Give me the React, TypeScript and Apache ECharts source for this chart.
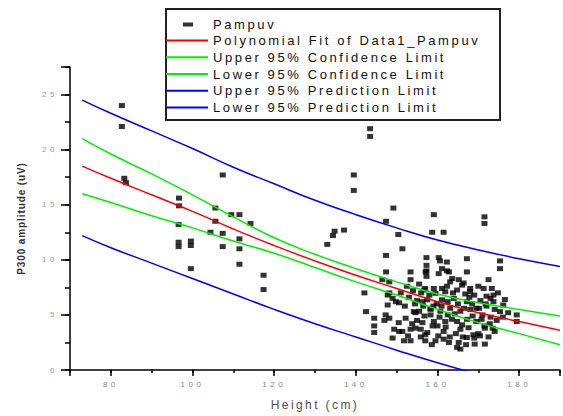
import React, { useEffect, useRef } from 'react';
import * as echarts from 'echarts';

// Curve sample positions (Height, cm)
const fitX = [73, 80, 90, 100, 110, 120, 130, 140, 150, 160, 170, 180, 190];
// Polynomial fit
const fitY = [18.5, 17.4, 15.9, 14.4, 12.8, 11.3, 9.9, 8.6, 7.4, 6.2, 5.2, 4.4, 3.6];
// 95% confidence limits
const upperConf = [21.0, 19.6, 17.8, 15.9, 13.9, 12.0, 10.5, 9.2, 8.0, 6.9, 6.1, 5.5, 4.9];
const lowerConf = [16.0, 15.2, 14.0, 12.9, 11.7, 10.6, 9.3, 8.0, 6.8, 5.5, 4.3, 3.3, 2.3];
// 95% prediction limits
const upperPred = [24.5, 23.3, 21.7, 20.1, 18.4, 16.9, 15.4, 14.1, 12.9, 11.8, 10.9, 10.1, 9.4];
const lowerPred = [12.2, 11.1, 9.7, 8.3, 6.9, 5.5, 4.2, 3.0, 1.8, 0.65, -0.4, -1.4, -2.3];

// Measured points [height, P300 amplitude]
const pampuv: [number, number][] = [
  [82.7, 24.0], [82.7, 22.1], [83.3, 17.4], [83.7, 17.0],
  [96.7, 15.6], [96.7, 14.9], [96.6, 13.2], [96.6, 11.6], [96.6, 11.2],
  [99.6, 11.7], [99.6, 11.3], [99.6, 9.2],
  [105.6, 14.7], [105.6, 13.5], [104.4, 12.5], [107.4, 12.4], [107.4, 11.2], [107.4, 17.7],
  [109.5, 14.1], [111.5, 14.1], [111.5, 11.9], [111.5, 11.0], [111.5, 9.6],
  [114.2, 13.3], [117.4, 8.6], [117.4, 7.3],
  [133.0, 11.4], [134.8, 12.6], [134.4, 12.2], [137.1, 12.7],
  [139.5, 17.7], [139.5, 16.3], [143.5, 21.9], [143.5, 21.2],
  [149.2, 14.7], [147.4, 13.5], [150.4, 12.3],
  [147.4, 10.4], [147.4, 8.9], [146.5, 8.2], [148.2, 8.0],
  [142.1, 7.0], [148.2, 7.0], [149.0, 6.5], [147.8, 5.9],
  [142.5, 5.3], [144.5, 4.7], [144.5, 4.0], [144.5, 3.4],
  [147.3, 5.0], [148.2, 4.7], [147.0, 4.5], [149.0, 2.9],
  [149.4, 3.7], [150.6, 3.5], [149.8, 6.2], [147.8, 6.8],
  [159.1, 14.1], [158.7, 12.5], [161.5, 12.5], [151.4, 11.0], [157.3, 10.2],
  [160.3, 10.2], [160.6, 9.9], [162.3, 9.8], [161.1, 9.2], [162.3, 9.0],
  [157.3, 9.5], [157.3, 9.0], [157.3, 8.5], [153.4, 8.9], [153.4, 8.2], [163.6, 8.3],
  [157.0, 7.4], [159.1, 7.4], [161.1, 7.4], [162.3, 7.6],
  [150.6, 6.1], [152.2, 4.7], [154.6, 5.2], [151.4, 3.5], [153.4, 3.7],
  [151.8, 2.65], [153.4, 2.65], [155.9, 3.7], [155.9, 3.0], [158.3, 5.6], [158.3, 5.0],
  [151.0, 7.0], [153.0, 6.6], [155.0, 6.3], [156.0, 7.0], [152.0, 5.8], [154.5, 6.0],
  [154.2, 5.3], [154.6, 3.8], [157.0, 3.2], [157.0, 2.65],
  [157.1, 8.9], [160.3, 8.75], [162.8, 8.9], [167.2, 8.9], [163.1, 8.0], [166.4, 7.9],
  [156.7, 7.26], [159.5, 6.96], [161.9, 7.1], [164.8, 7.26], [168.0, 7.1],
  [156.3, 6.2], [157.5, 6.37], [161.1, 6.37], [164.0, 6.5], [167.2, 6.2],
  [155.5, 5.33], [158.3, 5.5], [160.7, 5.33], [163.1, 5.6], [165.6, 5.33], [168.0, 5.5],
  [156.3, 4.3], [159.1, 4.4], [161.9, 4.4], [164.8, 4.4], [167.2, 4.6],
  [157.5, 3.4], [161.5, 3.5], [165.6, 3.7], [167.6, 3.84],
  [159.5, 2.65], [161.5, 2.8], [165.2, 2.5], [167.2, 2.95],
  [164.8, 2.05], [165.6, 1.9], [163.0, 3.0], [160.0, 4.0], [162.5, 5.0], [166.0, 4.1],
  [171.5, 13.9], [171.5, 13.3], [167.2, 10.1], [175.3, 9.9], [175.3, 9.2],
  [165.2, 8.2], [166.0, 7.7], [168.0, 7.4], [171.3, 7.4], [173.3, 7.4],
  [173.7, 6.8], [173.7, 6.2], [176.5, 6.4], [176.1, 5.9], [175.3, 5.3], [177.3, 5.2],
  [179.4, 5.0], [179.4, 4.4], [171.6, 2.35], [169.1, 2.35],
  [169.0, 6.8], [170.5, 6.3], [172.0, 5.8], [169.5, 5.6], [171.0, 5.0], [173.0, 4.8],
  [169.5, 4.4], [171.5, 4.0], [173.5, 3.8], [170.0, 3.3], [172.5, 3.0], [169.0, 2.9],
  [174.0, 5.5], [172.0, 6.7], [170.0, 7.6], [172.5, 8.2], [174.5, 4.5],
  [168.8, 3.2], [170.4, 3.1], [171.6, 3.8],
  [152.5, 7.6], [154.0, 7.2], [155.5, 7.8], [156.5, 5.8], [158.0, 6.8], [159.8, 6.0],
  [161.0, 5.8], [162.5, 6.2], [163.8, 7.0], [165.0, 6.0], [166.5, 5.6], [167.8, 6.6],
  [156.8, 4.9], [158.8, 4.0], [160.5, 4.8], [162.0, 3.9], [163.5, 4.6], [164.5, 3.3],
  [166.2, 3.0], [167.0, 2.3], [160.2, 3.1], [162.8, 2.5], [158.6, 2.3], [168.6, 4.9],
  [170.2, 5.6], [171.8, 6.0], [173.0, 6.5], [174.8, 7.0], [176.0, 4.8], [172.8, 4.2],
  [174.0, 3.5], [170.8, 4.6], [168.5, 6.0], [166.8, 6.9], [164.2, 5.1], [159.0, 5.8],
  [155.0, 4.5], [153.8, 4.2], [150.5, 4.3], [152.8, 3.1],
];

const xMin = 70;
const xMax = 190;
const yMin = 0;
const yMax = 27.5;

const font = 'Liberation Sans';

const css = `
#chart-root text[style*="13px"] { letter-spacing: 2.6px; }
#chart-root text[style*="12px"] { letter-spacing: 2.4px; }
#chart-root text[style*="8px"] { letter-spacing: 3.5px; }
#chart-root text[style*="10px"] { letter-spacing: 0.9px; }
`;

export default function App() {
  const ref = useRef<HTMLDivElement>(null);

  useEffect(() => {
    const chart = echarts.init(ref.current!, undefined, { renderer: 'svg' });
    const pair = (ys: number[]) => fitX.map((x, i) => [x, ys[i]]);
    const lineSeries = (name: string, color: string, ys: number[]) => ({
      type: 'line',
      name,
      data: pair(ys),
      symbol: 'none',
      smooth: true,
      xAxisIndex: 0,
      yAxisIndex: 0,
      lineStyle: { color, width: 1.5 },
      itemStyle: { color },
      z: 3,
    });

    chart.setOption({
      animation: false,
      backgroundColor: '#ffffff',
      grid: { left: 70, top: 67, right: 1, bottom: 43, containLabel: false },
      xAxis: [
        {
          type: 'value',
          position: 'bottom',
          min: xMin,
          max: xMax,
          interval: 10,
          axisLine: { show: true, onZero: false, lineStyle: { color: '#000', width: 1.5 } },
          axisTick: { show: true, length: 3, lineStyle: { color: '#000', width: 1.5 } },
          axisLabel: { show: false },
          splitLine: { show: false },
        },
        {
          type: 'value',
          position: 'bottom',
          min: xMin,
          max: xMax,
          splitNumber: 6,
          axisLine: { show: false, onZero: false },
          axisTick: { show: true, length: 6, lineStyle: { color: '#000', width: 1.5 } },
          axisLabel: {
            show: true,
            margin: 10,
            fontSize: 8,
            color: '#8a8a8a',
            fontFamily: font,
            formatter: (v: number) => (v % 20 === 0 && v >= 80 && v <= 180 ? String(v) : ''),
          },
          splitLine: { show: false },
          name: 'Height (cm)',
          nameLocation: 'middle',
          nameGap: 29,
          nameTextStyle: { fontSize: 12, color: '#505050', fontFamily: font },
        },
      ],
      yAxis: [
        {
          type: 'value',
          position: 'left',
          min: yMin,
          max: yMax,
          interval: 2.5,
          axisLine: { show: true, onZero: false, lineStyle: { color: '#000', width: 1.5 } },
          axisTick: { show: true, length: 5, lineStyle: { color: '#000', width: 1.5 } },
          axisLabel: { show: false },
          splitLine: { show: false },
        },
        {
          type: 'value',
          position: 'left',
          min: yMin,
          max: yMax,
          interval: 5,
          axisLine: { show: false, onZero: false },
          axisTick: { show: true, length: 9, lineStyle: { color: '#000', width: 1.5 } },
          axisLabel: {
            show: true,
            margin: 12,
            fontSize: 8,
            color: '#9a9a9a',
            fontFamily: font,
            formatter: (v: number) => (v % 5 === 0 ? String(v) : ''),
          },
          splitLine: { show: false },
          name: 'P300 amplitude (uV)',
          nameLocation: 'middle',
          nameGap: 44,
          nameRotate: 90,
          nameTextStyle: { fontSize: 10, fontWeight: 'bold', color: '#333', fontFamily: font },
        },
      ],
      legend: [
        {
          data: ['Pampuv'],
          orient: 'vertical',
          left: 183,
          top: 18,
          padding: 0,
          itemWidth: 10,
          itemHeight: 4,
          icon: 'rect',
          selectedMode: false,
          textStyle: { fontSize: 13, color: '#111', fontFamily: font, padding: [0, 0, 0, 15] },
          z: 5,
        },
        {
          data: [
            'Polynomial Fit of Data1_Pampuv',
            'Upper 95% Confidence Limit',
            'Lower 95% Confidence Limit',
            'Upper 95% Prediction Limit',
            'Lower 95% Prediction Limit',
          ],
          orient: 'vertical',
          left: 166,
          top: 34,
          padding: 0,
          itemWidth: 42,
          itemHeight: 2,
          icon: 'rect',
          itemGap: 3.75,
          selectedMode: false,
          textStyle: { fontSize: 13, color: '#111', fontFamily: font },
          z: 5,
        },
      ],
      graphic: [
        {
          type: 'rect',
          shape: { x: 166, y: 9, width: 334, height: 111 },
          style: { fill: '#ffffff', stroke: '#222', lineWidth: 2 },
          z: 3,
        },
      ],
      series: [
        {
          type: 'scatter',
          name: 'Pampuv',
          data: pampuv,
          symbol: 'rect',
          symbolSize: [6, 5],
          xAxisIndex: 0,
          yAxisIndex: 0,
          itemStyle: { color: '#000' },
          z: 2,
        },
        lineSeries('Polynomial Fit of Data1_Pampuv', '#ff0000', fitY),
        lineSeries('Upper 95% Confidence Limit', '#00f000', upperConf),
        lineSeries('Lower 95% Confidence Limit', '#00f000', lowerConf),
        lineSeries('Upper 95% Prediction Limit', '#0000ff', upperPred),
        lineSeries('Lower 95% Prediction Limit', '#0000ff', lowerPred),
      ],
    });

    return () => chart.dispose();
  }, []);

  return (
    <>
      <style>{css}</style>
      <div
        id="chart-root"
        ref={ref}
        style={{ position: 'fixed', left: 0, top: 0, width: 563, height: 416, background: '#fff' }}
      />
    </>
  );
}
